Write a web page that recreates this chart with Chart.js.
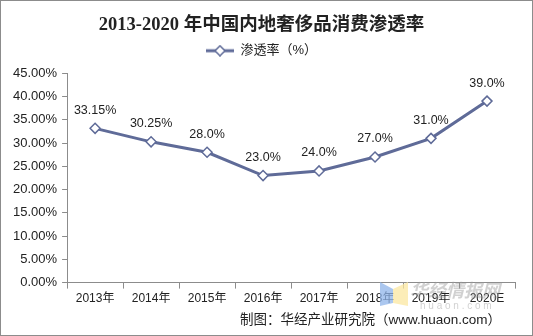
<!DOCTYPE html>
<html>
<head>
<meta charset="utf-8">
<script src="https://cdn.jsdelivr.net/npm/chart.js@4/dist/chart.umd.min.js"></script>
<style>
  body { margin: 0; background: #fff; }
  #wrap { width: 533px; height: 336px; }
</style>
</head>
<body>
<div id="wrap"><canvas id="myChart" width="533" height="336"></canvas></div>
<script>
let years = ["2013年", "2014年", "2015年", "2016年", "2017年", "2018年", "2019年", "2020E"];
let rates = [33.15, 30.25, 28.0, 23.0, 24.0, 27.0, 31.0, 39.0];
let rateLabels = ["33.15%", "30.25%", "28.0%", "23.0%", "24.0%", "27.0%", "31.0%", "39.0%"];
let sourceNote = "制图：华经产业研究院（www.huaon.com）";

let lineColor = "#5f6b98";
let sans = "'Liberation Sans', 'Noto Sans CJK SC', sans-serif";

// legend marker: short line with a hollow diamond
let legendIcon = document.createElement("canvas");
legendIcon.width = 28;
legendIcon.height = 12;
let ic = legendIcon.getContext("2d");
ic.strokeStyle = lineColor;
ic.lineWidth = 3;
ic.beginPath(); ic.moveTo(0, 6); ic.lineTo(28, 6); ic.stroke();
ic.fillStyle = "#fff";
ic.lineWidth = 1.5;
ic.beginPath(); ic.moveTo(14, 1); ic.lineTo(19, 6); ic.lineTo(14, 11); ic.lineTo(9, 6); ic.closePath();
ic.fill(); ic.stroke();

let frame = {
  id: "frame",
  beforeInit(chart) {
    // extra room between legend and plot
    let fit = chart.legend.fit;
    chart.legend.fit = function () {
      fit.bind(chart.legend)();
      this.height += 6;
    };
  },
  beforeDraw(chart) {
    let c = chart.ctx;
    c.save();
    c.fillStyle = "#fff";
    c.fillRect(0, 0, chart.width, chart.height);
    c.strokeStyle = "#8c8c8c";
    c.lineWidth = 1;
    c.strokeRect(0.5, 0.5, chart.width - 1, chart.height - 1);
    c.restore();
  },
  afterDraw(chart) {
    let c = chart.ctx;
    c.save();
    // source note
    c.font = "13.5px " + sans;
    c.fillStyle = "#222";
    c.textAlign = "right";
    c.textBaseline = "middle";
    c.fillText(sourceNote, 501, 320);
    // watermark
    c.globalAlpha = 0.75;
    c.fillStyle = "#8fb4ea";
    c.beginPath(); c.moveTo(380, 282); c.lineTo(393, 289); c.lineTo(393, 303); c.lineTo(380, 306); c.closePath(); c.fill();
    c.fillStyle = "#fbe7a0";
    c.beginPath(); c.moveTo(393, 289); c.lineTo(408, 282); c.lineTo(408, 306); c.lineTo(393, 303); c.closePath(); c.fill();
    c.globalAlpha = 0.45;
    c.fillStyle = "#9a9a9a";
    c.textAlign = "left";
    c.font = "italic bold 18px 'Noto Sans CJK SC', sans-serif";
    c.fillText("华经情报网", 410, 290);
    c.font = "10px " + sans;
    c.fillText("h u a o n . c o m", 420, 306);
    c.restore();
  }
};

let valueLabels = {
  id: "valueLabels",
  afterDatasetsDraw(chart) {
    let c = chart.ctx;
    let meta = chart.getDatasetMeta(0);
    c.save();
    c.font = "12.5px " + sans;
    c.fillStyle = "#222";
    c.textAlign = "center";
    c.textBaseline = "middle";
    meta.data.forEach((pt, i) => {
      c.fillText(rateLabels[i], pt.x, pt.y - 18);
    });
    c.restore();
  }
};

let ctx = document.getElementById("myChart");

let graphData = {
  type: "line",
  data: {
    labels: years,
    datasets: [
      {
        label: "渗透率（%）",
        data: rates,
        borderColor: lineColor,
        borderWidth: 3,
        pointStyle: "rectRot",
        pointRadius: 5,
        pointBorderWidth: 1.5,
        pointBackgroundColor: "#fff",
        pointBorderColor: lineColor,
        tension: 0,
      },
    ],
  },
  options: {
    responsive: false,
    animation: false,
    layout: { padding: { left: 8, right: 18, top: 6, bottom: 27 } },
    plugins: {
      title: {
        display: true,
        text: "2013-2020 年中国内地奢侈品消费渗透率",
        color: "#222",
        font: { family: "'Liberation Serif', 'Noto Sans CJK SC', serif", size: 18.5, weight: "bold" },
        padding: { top: 8, bottom: 2 },
      },
      legend: {
        display: true,
        labels: {
          usePointStyle: true,
          pointStyle: legendIcon,
          pointStyleWidth: 28,
          boxHeight: 12,
          color: "#222",
          font: { family: sans, size: 13 },
          padding: 6,
        },
      },
      tooltip: { enabled: false },
    },
    scales: {
      x: {
        offset: true,
        grid: { offset: true, drawOnChartArea: false, tickLength: 6, color: "#8c8c8c" },
        border: { color: "#8c8c8c" },
        ticks: { color: "#222", font: { family: sans, size: 12 }, maxRotation: 0, autoSkip: false },
      },
      y: {
        min: 0,
        max: 45,
        grid: { drawOnChartArea: false, tickLength: 5, color: "#8c8c8c" },
        border: { color: "#8c8c8c" },
        ticks: {
          stepSize: 5,
          color: "#222",
          font: { family: sans, size: 13 },
          padding: 5,
          callback: (v) => v.toFixed(2) + "%",
        },
      },
    },
  },
  plugins: [frame, valueLabels],
};

let myChart = new Chart(ctx, graphData);
</script>
</body>
</html>
